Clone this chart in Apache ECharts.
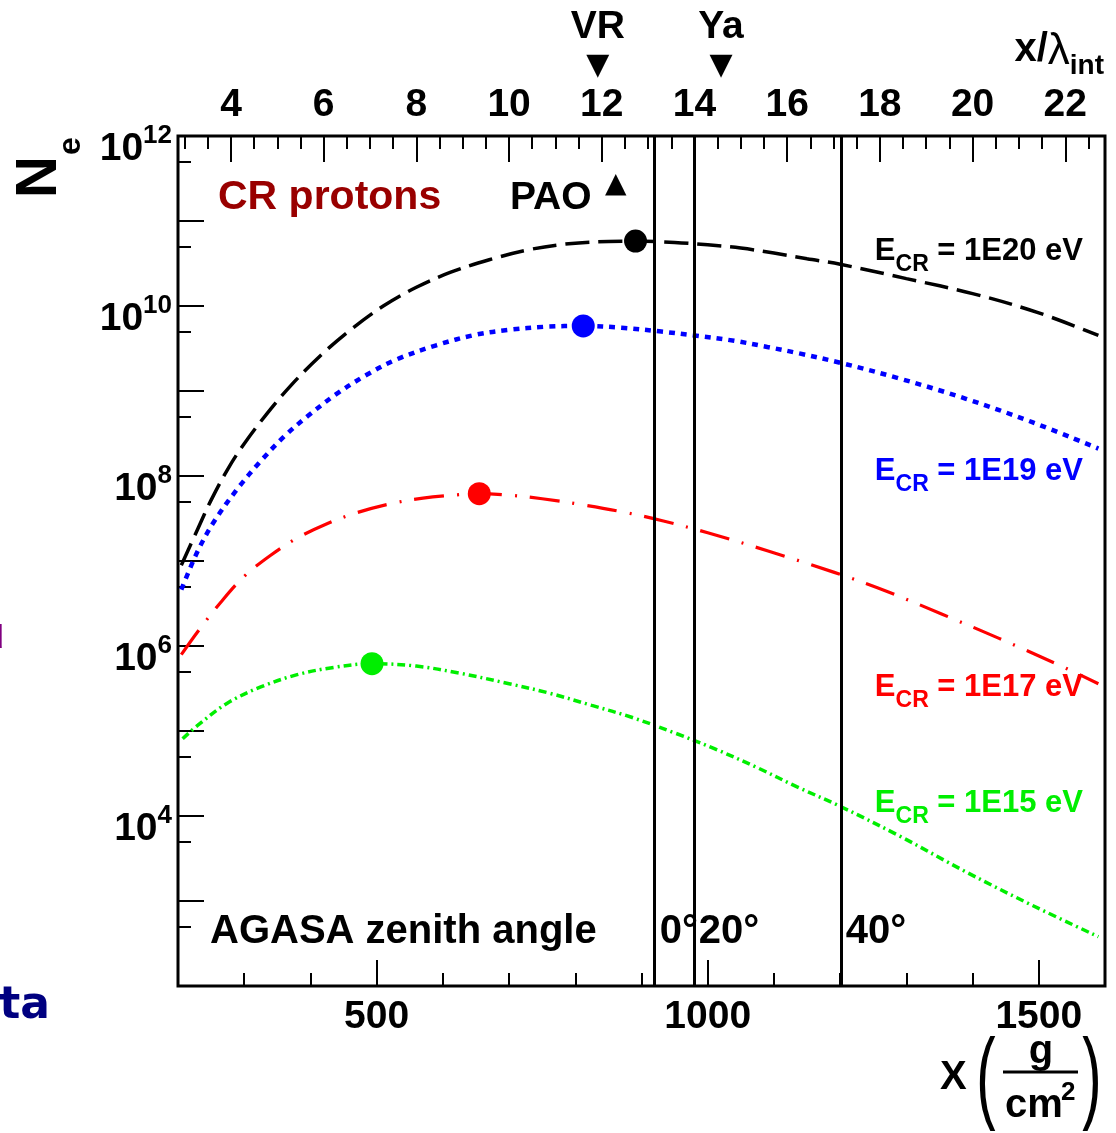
<!DOCTYPE html>
<html><head><meta charset="utf-8">
<script src="https://cdn.jsdelivr.net/npm/echarts@6/dist/echarts.min.js"></script>
<style>html,body{margin:0;padding:0;background:#fff}#c{width:1116px;height:1133px}</style>
</head><body><div id="c"></div>
<script>
// ---------------- data ----------------
const DEPTH_RANGE = [200, 1600];          // X (g/cm^2)
const LAMBDA_INT = 70;                    // g/cm^2, top axis = X / lambda_int
const NE_EXP_RANGE = [2, 12];             // log10 Ne range
const bottomTickLabels = [500, 1000, 1500];
const topTickLabels = [4, 6, 8, 10, 12, 14, 16, 18, 20, 22];
const yTickLabelExps = [4, 6, 8, 10, 12];
const yMinorTickValues = [5e2, 5e3, 5e4, 5e5, 5e6, 5e7, 5e8, 5e9, 5e10, 5e11];

const depth1E20 = [205, 230, 250, 275, 300, 335, 370, 415, 460, 510, 560, 612, 670, 730, 790, 850, 891, 950, 1000, 1050, 1100, 1150, 1200, 1300, 1400, 1500, 1590];
const ne1E20    = [8.9e6, 2.4e7, 5.2e7, 1.2e8, 2.4e8, 5.5e8, 1.15e9, 2.6e9, 5.2e9, 1.0e10, 1.66e10, 2.5e10, 3.5e10, 4.6e10, 5.4e10, 5.75e10, 5.8e10, 5.6e10, 5.25e10, 4.8e10, 4.2e10, 3.6e10, 3.1e10, 2.1e10, 1.4e10, 8.3e9, 4.5e9];

const depth1E19 = [205, 230, 255, 290, 325, 360, 395, 440, 485, 530, 590, 650, 700, 755, 812, 870, 930, 980, 1040, 1090, 1140, 1200, 1290, 1390, 1490, 1590];
const ne1E19    = [4.6e6, 1.32e7, 2.95e7, 7.1e7, 1.5e8, 2.9e8, 5.0e8, 9.3e8, 1.55e9, 2.35e9, 3.45e9, 4.6e9, 5.25e9, 5.7e9, 5.83e9, 5.55e9, 5.0e9, 4.5e9, 3.9e9, 3.3e9, 2.75e9, 2.15e9, 1.4e9, 8.1e8, 4.3e8, 2.1e8];

const depth1E17 = [205, 230, 265, 300, 340, 380, 425, 470, 520, 570, 620, 655, 700, 750, 810, 870, 930, 1000, 1090, 1190, 1270, 1355, 1440, 1530, 1590];
const ne1E17    = [7.9e5, 1.48e6, 3.3e6, 6.6e6, 1.17e7, 1.86e7, 2.75e7, 3.7e7, 4.7e7, 5.5e7, 6.0e7, 6.2e7, 5.95e7, 5.4e7, 4.6e7, 3.8e7, 3.0e7, 2.15e7, 1.32e7, 7.4e6, 4.4e6, 2.35e6, 1.23e6, 6.0e5, 3.6e5];

const depth1E15 = [207, 230, 275, 325, 380, 435, 493, 560, 625, 700, 760, 825, 885, 950, 1010, 1075, 1135, 1200, 1290, 1390, 1490, 1590];
const ne1E15    = [8.1e4, 1.17e5, 2.14e5, 3.3e5, 4.6e5, 5.6e5, 6.2e5, 5.8e5, 4.8e5, 3.6e5, 2.8e5, 2.0e5, 1.45e5, 9.5e4, 6.2e4, 3.7e4, 2.2e4, 1.3e4, 5.8e3, 2.2e3, 890, 380];

const showerMaxDepth = [891, 812, 655, 493];
const showerMaxNe    = [5.8e10, 5.83e9, 6.2e7, 6.2e5];
const energyLabels   = ['1E20', '1E19', '1E17', '1E15'];
const energyColors   = ['#000000', '#0000ff', '#ff0000', '#00ee00'];

const agasaZenithLabels = ['0°', '20°', '40°'];
const agasaDepth = [920, 979, 1201];
const observatoryNames = ['VR', 'Ya'];
const observatoryDepth = [834, 1020];
const paoDepth = 861;

// ---------------- chart ----------------
const FF = '"Liberation Sans", Arial, Helvetica, sans-serif';
const chart = echarts.init(document.getElementById('c'), null, {renderer: 'canvas'});
const toPts = (xs, ns) => xs.map((x, i) => [x, Math.log10(ns[i])]);

const topMinor = [];
for (let v = 3; v <= 22.5; v += 0.5) topMinor.push(v);
const bottomMinor = [];
for (let v = 300; v <= 1500; v += 100) bottomMinor.push(v);

const tickStyle = {color: '#000', width: 2};
const labelFont = {fontFamily: FF, fontWeight: 'bold', fontSize: 39, color: '#000'};

function lineSeries(xs, ns, color, dash, width) {
  return {
    type: 'line', xAxisIndex: 0, yAxisIndex: 0, data: toPts(xs, ns),
    showSymbol: false, symbol: 'none', smooth: 0.35, silent: true,
    lineStyle: {color: color, width: width, type: dash, cap: 'butt'}, z: 3
  };
}

const series = [
  lineSeries(depth1E20, ne1E20, energyColors[0], [24, 9], 3.5),
  lineSeries(depth1E19, ne1E19, energyColors[1], [6, 6], 4.5),
  lineSeries(depth1E17, ne1E17, energyColors[2], [30, 13, 2, 13], 3.2),
  lineSeries(depth1E15, ne1E15, energyColors[3], [8, 4, 2, 4], 3.5),
  {
    type: 'scatter', xAxisIndex: 0, yAxisIndex: 0, symbol: 'circle', symbolSize: 23, silent: true, z: 5,
    data: showerMaxDepth.map((x, i) => ({value: [x, Math.log10(showerMaxNe[i])], itemStyle: {color: energyColors[i], opacity: 1}}))
  },
  {
    type: 'line', xAxisIndex: 0, yAxisIndex: 0, data: [], silent: true,
    markLine: {
      symbol: ['none', 'none'], silent: true, animation: false,
      label: {show: false},
      lineStyle: {color: '#000', width: 3, type: 'solid'},
      data: agasaDepth.map(d => ({xAxis: d}))
    }
  }
];

chart.setOption({
  animation: false,
  backgroundColor: '#fff',
  grid: {left: 178, right: 11, top: 136, bottom: 147, show: true, borderColor: '#000', borderWidth: 3,
         backgroundColor: 'transparent', containLabel: false, outerBoundsMode: 'none'},
  xAxis: [
    {type: 'value', position: 'bottom', min: DEPTH_RANGE[0], max: DEPTH_RANGE[1],
     axisLine: {show: false}, splitLine: {show: false},
     axisTick: {show: true, inside: true, length: 13, lineStyle: tickStyle, customValues: bottomMinor},
     axisLabel: Object.assign({customValues: bottomTickLabels, margin: 12, formatter: v => String(v)}, labelFont)},
    {type: 'value', position: 'bottom', min: DEPTH_RANGE[0], max: DEPTH_RANGE[1],
     axisLine: {show: false}, splitLine: {show: false},
     axisTick: {show: true, inside: true, length: 26, lineStyle: tickStyle, customValues: bottomTickLabels},
     axisLabel: {show: false}},
    {type: 'value', position: 'top', min: DEPTH_RANGE[0] / LAMBDA_INT, max: DEPTH_RANGE[1] / LAMBDA_INT,
     axisLine: {show: false}, splitLine: {show: false},
     axisTick: {show: true, inside: true, length: 13, lineStyle: tickStyle, customValues: topMinor},
     axisLabel: Object.assign({customValues: topTickLabels, margin: 11, formatter: v => String(v)}, labelFont)},
    {type: 'value', position: 'top', min: DEPTH_RANGE[0] / LAMBDA_INT, max: DEPTH_RANGE[1] / LAMBDA_INT,
     axisLine: {show: false}, splitLine: {show: false},
     axisTick: {show: true, inside: true, length: 26, lineStyle: tickStyle, customValues: topTickLabels},
     axisLabel: {show: false}}
  ],
  yAxis: [
    {type: 'value', position: 'left', min: NE_EXP_RANGE[0], max: NE_EXP_RANGE[1], interval: 1,
     axisLine: {show: false}, splitLine: {show: false},
     axisTick: {show: true, inside: true, length: 26, lineStyle: tickStyle},
     axisLabel: {
       customValues: yTickLabelExps, margin: 6,
       formatter: v => '{b|10}{s|' + v + '}',
       rich: {
         b: {fontFamily: FF, fontWeight: 'bold', fontSize: 39, color: '#000', lineHeight: 40, verticalAlign: 'bottom'},
         s: {fontFamily: FF, fontWeight: 'bold', fontSize: 26, color: '#000', lineHeight: 66, verticalAlign: 'middle'}
       }
     }},
    {type: 'value', position: 'left', min: NE_EXP_RANGE[0], max: NE_EXP_RANGE[1],
     axisLine: {show: false}, splitLine: {show: false},
     axisTick: {show: true, inside: true, length: 13, lineStyle: tickStyle, customValues: yMinorTickValues.map(v => Math.log10(v))},
     axisLabel: {show: false}}
  ],
  series: series
});

// ---------------- annotations ----------------
const xpx = d => chart.convertToPixel({xAxisIndex: 0}, d);
function T(x, y, text, o) {
  o = o || {};
  const el = {type: 'text', x: x, y: y, z: 20, silent: true,
    style: {text: text, fill: o.color || '#000', fontSize: o.size || 40, fontWeight: o.weight || 'bold',
            fontFamily: o.family || FF, align: o.align || 'left', verticalAlign: o.va || 'middle'}};
  if (o.rich) el.style.rich = o.rich;
  if (o.rotation) el.rotation = o.rotation;
  if (o.scaleY) el.scaleY = o.scaleY;
  return el;
}
const g = [];
// y-axis title N_e (rotated)
g.push(T(40, 177, 'N', {size: 58, align: 'center', rotation: Math.PI / 2}));
g.push(T(71, 146, 'e', {size: 32, align: 'center', rotation: Math.PI / 2}));
// top axis title
g.push(T(1104, 30, '{m|x/}{l|λ}{s|int}', {align: 'right', va: 'top', rich: {
  m: {fontSize: 40, fontWeight: 'bold', fontFamily: FF, fill: '#000', lineHeight: 30, verticalAlign: 'top'},
  l: {fontSize: 44, fontWeight: 'normal', fontFamily: FF, fill: '#000', lineHeight: 30, verticalAlign: 'top'},
  s: {fontSize: 28, fontWeight: 'bold', fontFamily: FF, fill: '#000', lineHeight: 72, verticalAlign: 'middle'}
}}));
// observatories on top
observatoryNames.forEach((n, i) => {
  const x = xpx(observatoryDepth[i]);
  g.push(T(x, 27, n, {size: 39, align: 'center'}));
  g.push(T(x, 66, '▼', {size: 30, align: 'center', family: 'DejaVu Sans'}));
});
// bottom axis title X (g/cm^2)
g.push(T(940, 1078, 'X', {size: 40}));
g.push(T(986, 1082, '(', {size: 58, weight: 'normal', align: 'center', scaleY: 1.75}));
g.push(T(1092, 1082, ')', {size: 58, weight: 'normal', align: 'center', scaleY: 1.75}));
g.push(T(1041, 1052, 'g', {size: 40, align: 'center'}));
g.push({type: 'line', z: 20, silent: true, shape: {x1: 1003, y1: 1072, x2: 1078, y2: 1072}, style: {stroke: '#000', lineWidth: 3}});
g.push(T(1005, 1106, 'cm', {size: 40}));
g.push(T(1061, 1093, '2', {size: 26}));
// in-plot texts
g.push(T(218, 198, 'CR protons', {size: 41, color: '#990000'}));
g.push(T(510, 198, 'PAO', {size: 39}));
g.push(T(xpx(paoDepth), 185, '▲', {size: 28, align: 'center', family: 'DejaVu Sans'}));
g.push(T(210, 932, 'AGASA zenith angle', {size: 40}));
agasaZenithLabels.forEach((lab, i) => {
  g.push(T(xpx(agasaDepth[i]) + 5, 932, lab, {size: 40}));
});
const labelCenters = [252, 472, 688, 804];
energyLabels.forEach((e, i) => {
  const c = energyColors[i];
  g.push(T(1083, labelCenters[i] - 16, '{m|E}{c|CR}{m| = ' + e + ' eV}', {align: 'right', va: 'top', rich: {
    m: {fontSize: 31, fontWeight: 'bold', fontFamily: FF, fill: c, lineHeight: 26, verticalAlign: 'top'},
    c: {fontSize: 23, fontWeight: 'bold', fontFamily: FF, fill: c, lineHeight: 40, verticalAlign: 'bottom'}
  }}));
});
// clipped fragments at left edge
g.push(T(4, 656, 'd', {size: 34, color: '#800080', align: 'right', va: 'bottom'}));
g.push(T(50, 1029, 'data', {size: 44, color: '#000080', align: 'right', va: 'bottom', family: '"DejaVu Sans", sans-serif'}));

chart.setOption({graphic: g});
</script></body></html>
